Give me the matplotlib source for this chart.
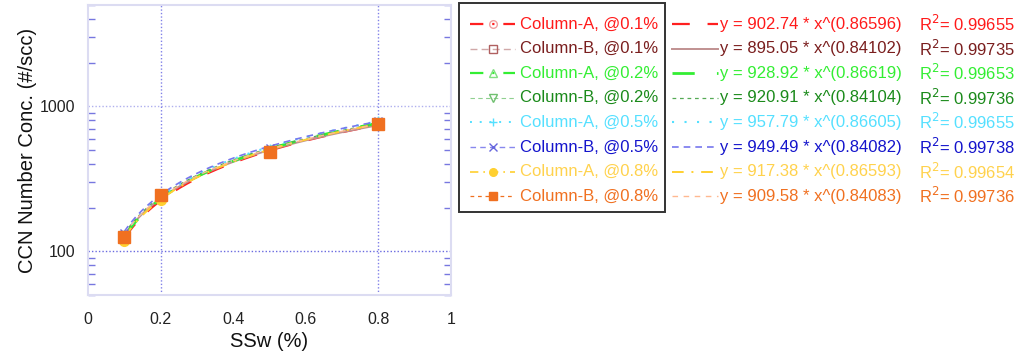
import numpy as np
import matplotlib.pyplot as plt
from matplotlib.lines import Line2D
from matplotlib.patches import Rectangle
from matplotlib.ticker import LogLocator, FixedLocator, NullFormatter

plt.rcParams['font.family'] = ['Liberation Sans', 'DejaVu Sans']

# supersaturation steps (%)
ssw = [0.1, 0.2, 0.5, 0.8]

labels = ["Column-A, @0.1%", "Column-B, @0.1%", "Column-A, @0.2%", "Column-B, @0.2%",
          "Column-A, @0.5%", "Column-B, @0.5%", "Column-A, @0.8%", "Column-B, @0.8%"]

# measured CCN number concentration (#/scc) for each column / setting
ccn_a01 = [121, 228, 487, 742]
ccn_b01 = [127, 238, 492, 748]
ccn_a02 = [124, 232, 497, 763]
ccn_b02 = [130, 242, 500, 766]
ccn_a05 = [128, 239, 512, 787]
ccn_b05 = [134, 250, 514, 790]
ccn_a08 = [118, 226, 490, 748]
ccn_b08 = [126, 245, 485, 758]
ccn = [ccn_a01, ccn_b01, ccn_a02, ccn_b02, ccn_a05, ccn_b05, ccn_a08, ccn_b08]

# power-law fits y = a * x^b
fit_a = [902.74, 895.05, 928.92, 920.91, 957.79, 949.49, 917.38, 909.58]
fit_b = [0.86596, 0.84102, 0.86619, 0.84104, 0.86605, 0.84082, 0.86593, 0.84083]
fit_r2 = [0.99655, 0.99735, 0.99653, 0.99736, 0.99655, 0.99738, 0.99654, 0.99736]

text_colors = ['#FF1A1A', '#7A1E1E', '#33EE33', '#1A8A1A',
               '#55E0FF', '#1414CC', '#FFD24D', '#F07020']
data_styles = [
    dict(color='#FF2020', ls=(0, (6, 4, 1, 4)), lw=1.6, marker='o', mfc='none', mec='#F0A0A0'),
    dict(color='#D0A8A8', ls=(0, (5, 3)), lw=1.0, marker='s', mfc='none', mec='#B06060'),
    dict(color='#33EE33', ls=(0, (6, 4, 1, 4)), lw=1.6, marker='^', mfc='none', mec='#80E080'),
    dict(color='#90D090', ls=(0, (4, 3)), lw=0.8, marker='v', mfc='none', mec='#70C070'),
    dict(color='#55E0FF', ls=(0, (1, 4)), lw=1.4, marker='+', mec='#55E0FF'),
    dict(color='#8888EE', ls=(0, (4, 3)), lw=1.0, marker='x', mec='#6666DD'),
    dict(color='#FFD030', ls=(0, (5, 3, 1, 3)), lw=1.2, marker='o', mfc='#FFD030', mec='#FFD030'),
    dict(color='#F07020', ls=(0, (3, 3)), lw=0.9, marker='s', mfc='#F07020', mec='#F07020'),
]
plot_ms = [6, 6, 6, 6, 7, 6, 7, 9]
fit_styles = [
    dict(color='#FF2020', ls=(0, (8, 8)), lw=1.6),
    dict(color='#C09090', ls='-', lw=1.4),
    dict(color='#33EE33', ls=(0, (8, 8)), lw=2.0),
    dict(color='#55AA55', ls=(0, (3, 3)), lw=0.9),
    dict(color='#55E0FF', ls=(0, (1, 5)), lw=1.5),
    dict(color='#7777EE', ls=(0, (4, 3)), lw=1.2),
    dict(color='#FFD030', ls=(0, (6, 4, 1, 4)), lw=1.4),
    dict(color='#FFB890', ls=(0, (4, 4)), lw=1.0),
]

W, H = 1015, 356
fig = plt.figure(figsize=(W / 100, H / 100), dpi=100)
ax = fig.add_axes([88 / W, 1 - 295 / H, (451 - 88) / W, (295 - 5) / H])

xs = np.linspace(0.1, 0.8, 200)
for i in range(8):
    ax.plot(xs, fit_a[i] * xs ** fit_b[i], zorder=2, **fit_styles[i])
for i in range(8):
    st = dict(data_styles[i], ls='none')
    ax.plot(ssw, ccn[i], ms=plot_ms[i], zorder=3, **st)

ax.set_yscale('log')
ax.set_xlim(0, 1)
ax.set_ylim(50, 5000)
ax.set_xticks([0, 0.2, 0.4, 0.6, 0.8, 1.0])
ax.set_xticklabels(['0', '0.2', '0.4', '0.6', '0.8', '1'])
ax.yaxis.set_major_locator(FixedLocator([100, 1000]))
ax.set_yticklabels(['100', '1000'])
ax.yaxis.set_minor_locator(LogLocator(base=10, subs=np.arange(2, 10)))
ax.yaxis.set_minor_formatter(NullFormatter())
ax.tick_params(axis='x', length=0, pad=12, labelsize=11.5, colors='#222222')
ax.tick_params(axis='y', which='major', length=0, pad=9, labelsize=11.5, colors='#222222')
ax.tick_params(axis='y', which='minor', direction='in', length=5, width=1.0,
               color='#7777E0', left=True, right=True)

for y in [100, 1000]:
    ax.axhline(y, color='#6A6AE0' if y == 100 else '#B0B0EE', ls=(0, (1, 1.5)), lw=1.0, zorder=1)
for x in [0.2, 0.8]:
    ax.axvline(x, color='#8080E8', ls=(0, (1, 1.5)), lw=1.0, zorder=1)

for s in ax.spines.values():
    s.set_color('#DCDCF2')
    s.set_linewidth(1.5)

ax.set_xlabel('SSw (%)', fontsize=14.5, color='#111111', labelpad=4)
ax.set_ylabel('CCN Number Conc. (#/scc)', fontsize=14.5, color='#111111', labelpad=2)


def fx(px):
    return px / W


def fy(py):
    return 1 - py / H


# boxed legend for the measured series
fig.patches.append(Rectangle((fx(459), fy(212)), fx(665) - fx(459), fy(3) - fy(212),
                             transform=fig.transFigure, fill=False, ec='#333333', lw=1.4))
row0, dy = 24, 24.6
for i in range(8):
    yy = fy(row0 + i * dy)
    fig.lines.append(Line2D([fx(470), fx(492.5), fx(515)], [yy, yy, yy], markevery=[1],
                            ms=5.5, transform=fig.transFigure, **data_styles[i]))
    fig.text(fx(520), yy, labels[i], color=text_colors[i], fontsize=12, va='center')

    # fit equations beside the box
    fig.lines.append(Line2D([fx(672), fx(718)], [yy, yy], transform=fig.transFigure,
                            **fit_styles[i]))
    fig.text(fx(720), yy, f"y = {fit_a[i]:.2f} * x^({fit_b[i]:.5f})",
             color=text_colors[i], fontsize=12, va='center')
    fig.text(fx(919), yy, f"R$^2$= {fit_r2[i]:.5f}", color=text_colors[i], fontsize=12,
             va='center')

fig.savefig('out.png', dpi=100)
